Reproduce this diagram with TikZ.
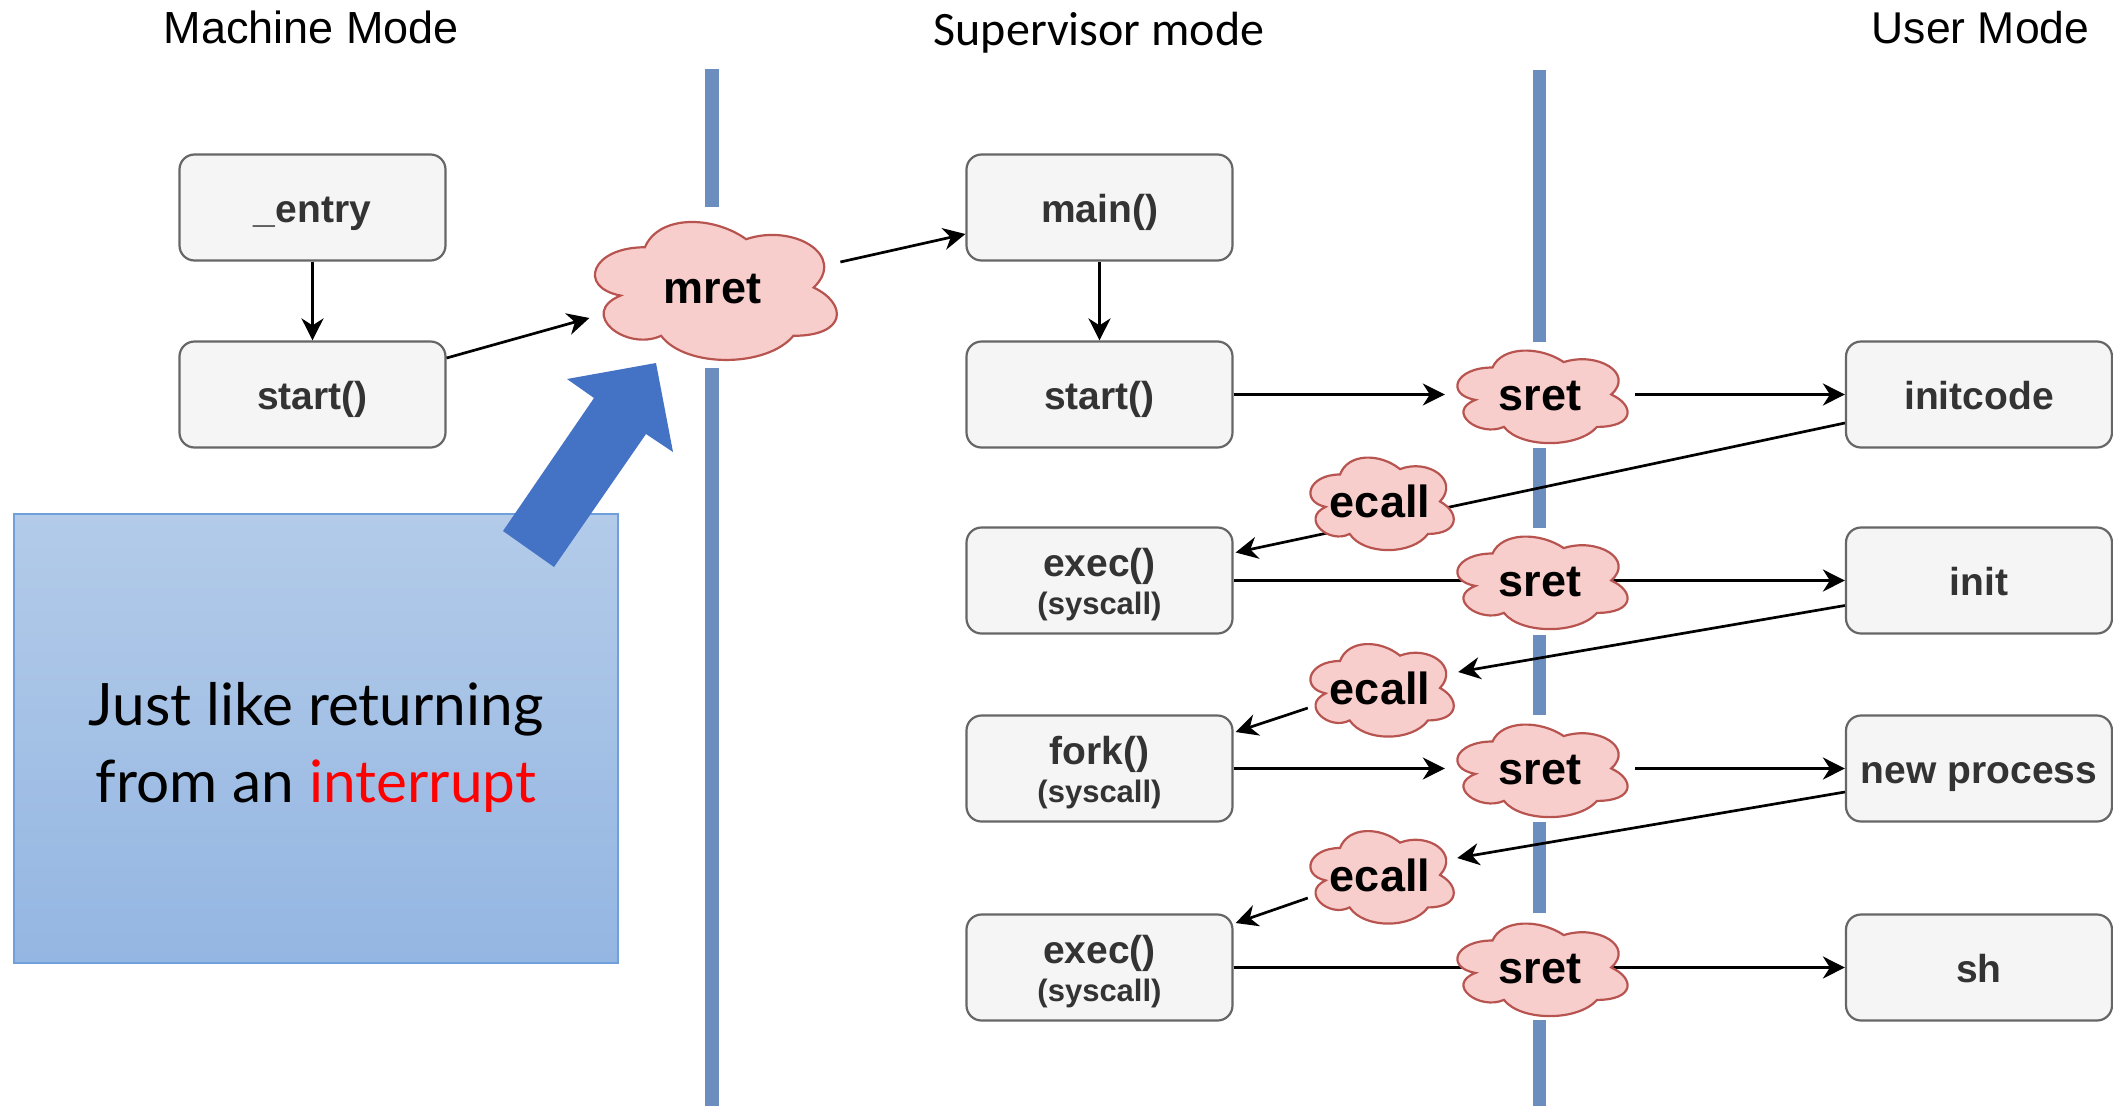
\documentclass[tikz,border=0pt]{standalone}
\usepackage{fontspec}
\setmainfont{Liberation Sans}
\newfontfamily\calibrifont{Carlito}
\newfontfamily\gillfont{Lato}
\usetikzlibrary{arrows.meta,calc}
\definecolor{barblue}{HTML}{6C8EBF}
\definecolor{boxfill}{HTML}{F5F5F5}
\definecolor{boxline}{HTML}{666666}
\definecolor{boxtext}{HTML}{333333}
\definecolor{cloudfill}{HTML}{F8CECC}
\definecolor{cloudline}{HTML}{B85450}
\definecolor{bigarrow}{HTML}{4472C4}
\definecolor{notetop}{HTML}{B3CBE9}
\definecolor{notebot}{HTML}{94B6E2}
\definecolor{noteline}{HTML}{6FA0DC}
\tikzset{
  bar/.style={barblue, line width=14pt},
  mbox/.style={draw=boxline, fill=boxfill, line width=2.2pt, rounded corners=15pt,
    minimum width=266pt, minimum height=106pt, inner sep=0pt, align=center,
    text=boxtext, font=\bfseries\fontsize{39}{41}\selectfont,
    text height=30pt, text depth=0pt},
  mboxtwo/.style={mbox, text height=67pt},
  cloudshape/.style={draw=cloudline, fill=cloudfill, line width=2.2pt},
  cloudtext/.style={inner sep=0pt, font=\bfseries\fontsize{45}{45}\selectfont, text=black,
    execute at begin node={\rule{0pt}{33pt}}},
  conn/.style={draw=black, line width=2.7pt, -{Stealth[length=22pt,width=22pt,inset=7pt]}},
  header/.style={anchor=base, inner sep=0pt},
  note/.style={draw=noteline, line width=1.5pt, top color=notetop, bottom color=notebot,
    minimum width=604pt, minimum height=449pt, align=center, inner sep=0pt,
    font=\gillfont\fontsize{58.5}{77}\selectfont,
    text height=127pt, text depth=0pt}
}
\newcommand\mxcloud[6]{%
  \path[cloudshape, shift={(#2-#4/2,#3-#5/2)}, xscale=#4, yscale=#5]
    (0.25,0.25) .. controls (0.05,0.25) and (0,0.5) .. (0.16,0.55)
    .. controls (0,0.66) and (0.18,0.9) .. (0.31,0.8)
    .. controls (0.4,1) and (0.7,1) .. (0.8,0.8)
    .. controls (1,0.8) and (1,0.6) .. (0.875,0.5)
    .. controls (1,0.3) and (0.8,0.1) .. (0.625,0.2)
    .. controls (0.5,0.05) and (0.3,0.05) .. (0.25,0.25) -- cycle;
  \node[cloudtext, minimum width=#4pt, minimum height=#5pt] (#1) at (#2,#3) {#6};
}
\begin{document}
\begin{tikzpicture}[x=1pt, y=-1pt]
\useasboundingbox (0,0) rectangle (2113,1106);

% headers
\node[header, font=\fontsize{45}{45}\selectfont] (hmachine) at (311.5,43) {Machine Mode};
\node[header, font=\calibrifont\fontsize{48}{48}\selectfont] (hsuper) at (1099,45) {Supervisor mode};
\node[header, font=\fontsize{44.5}{44.5}\selectfont] (huser) at (1980.5,43) {User Mode};

% separator bars
\draw[bar] (712,69) -- (712,207);
\draw[bar] (712,368) -- (712,1106);
\draw[bar, line width=13pt] (1539.5,70) -- (1539.5,342);
\draw[bar, line width=13pt] (1539.5,448) -- (1539.5,528);
\draw[bar, line width=13pt] (1539.5,635) -- (1539.5,715);
\draw[bar, line width=13pt] (1539.5,822) -- (1539.5,913);
\draw[bar, line width=13pt] (1539.5,1020) -- (1539.5,1106);

% note box
\node[note] (note) at (316,738.5) {Just like returning\\from an \textcolor{red}{interrupt}};

% boxes
\node[mbox] (entry) at (312.5,207.5) {\_entry};
\node[mbox] (startL) at (312.5,394.5) {start()};
\node[mbox] (main) at (1099.5,207.5) {main()};
\node[mbox] (startM) at (1099.5,394.5) {start()};
\node[mboxtwo] (exec1) at (1099.5,580.5) {exec()\\[-3pt]{\fontsize{31}{33}\selectfont (syscall)}};
\node[mboxtwo] (fork) at (1099.5,768.5) {fork()\\[-3pt]{\fontsize{31}{33}\selectfont (syscall)}};
\node[mboxtwo] (exec3) at (1099.5,967.5) {exec()\\[-3pt]{\fontsize{31}{33}\selectfont (syscall)}};
\node[mbox] (initcode) at (1979,394.5) {initcode};
\node[mbox] (init) at (1979,580.5) {init};
\node[mbox] (newproc) at (1979,768.5) {new process};
\node[mbox] (sh) at (1979,967.5) {sh};

% clouds that connectors end at
\mxcloud{mret}{712.4}{287.5}{270}{161}{mret}
\mxcloud{sret1}{1540}{394.5}{190}{108}{sret}
\mxcloud{sret3}{1540}{768.5}{190}{108}{sret}
\mxcloud{ecall2}{1380}{688}{160}{108}{ecall}
\mxcloud{ecall3}{1380}{875}{160}{108}{ecall}

% connectors passing under clouds
\draw[conn] ($(initcode.west)+(0,28.5)$) -- ($(exec1.east)+(2,-28)$);
\draw[conn] (exec1) -- (init);
\draw[conn] (exec3) -- (sh);

% clouds on those connectors
\mxcloud{ecall1}{1380}{501.5}{160}{108}{ecall}
\mxcloud{sret2}{1540}{580.5}{190}{108}{sret}
\mxcloud{sret4}{1540}{967.5}{190}{108}{sret}

% other connectors
\draw[conn] (entry) -- (startL);
\draw[conn] ($(startL.east)+(0,-36.5)$) -- ($(mret.center)+(-123,30.5)$);
\draw[conn] ($(mret.center)+(128,-25.5)$) -- ($(main.west)+(0,26.5)$);
\draw[conn] (main) -- (startM);
\draw[conn] (startM) -- (sret1);
\draw[conn] (sret1) -- (initcode);
\draw[conn] ($(init.west)+(0,25)$) -- ($(ecall2.east)+(-2,-16)$);
\draw[conn] ($(ecall2.west)+(8,20)$) -- ($(fork.east)+(2,-36.5)$);
\draw[conn] (fork) -- (sret3);
\draw[conn] (sret3) -- (newproc);
\draw[conn] ($(newproc.west)+(0,23.5)$) -- ($(ecall3.east)+(-3,-17)$);
\draw[conn] ($(ecall3.west)+(8,23)$) -- ($(exec3.east)+(2,-44.5)$);

% big blue arrow
\fill[bigarrow] (503,531) -- (594,398) -- (567,379) -- (656,363) -- (673,452) -- (646,434) -- (554,567) -- cycle;
\end{tikzpicture}
\end{document}
